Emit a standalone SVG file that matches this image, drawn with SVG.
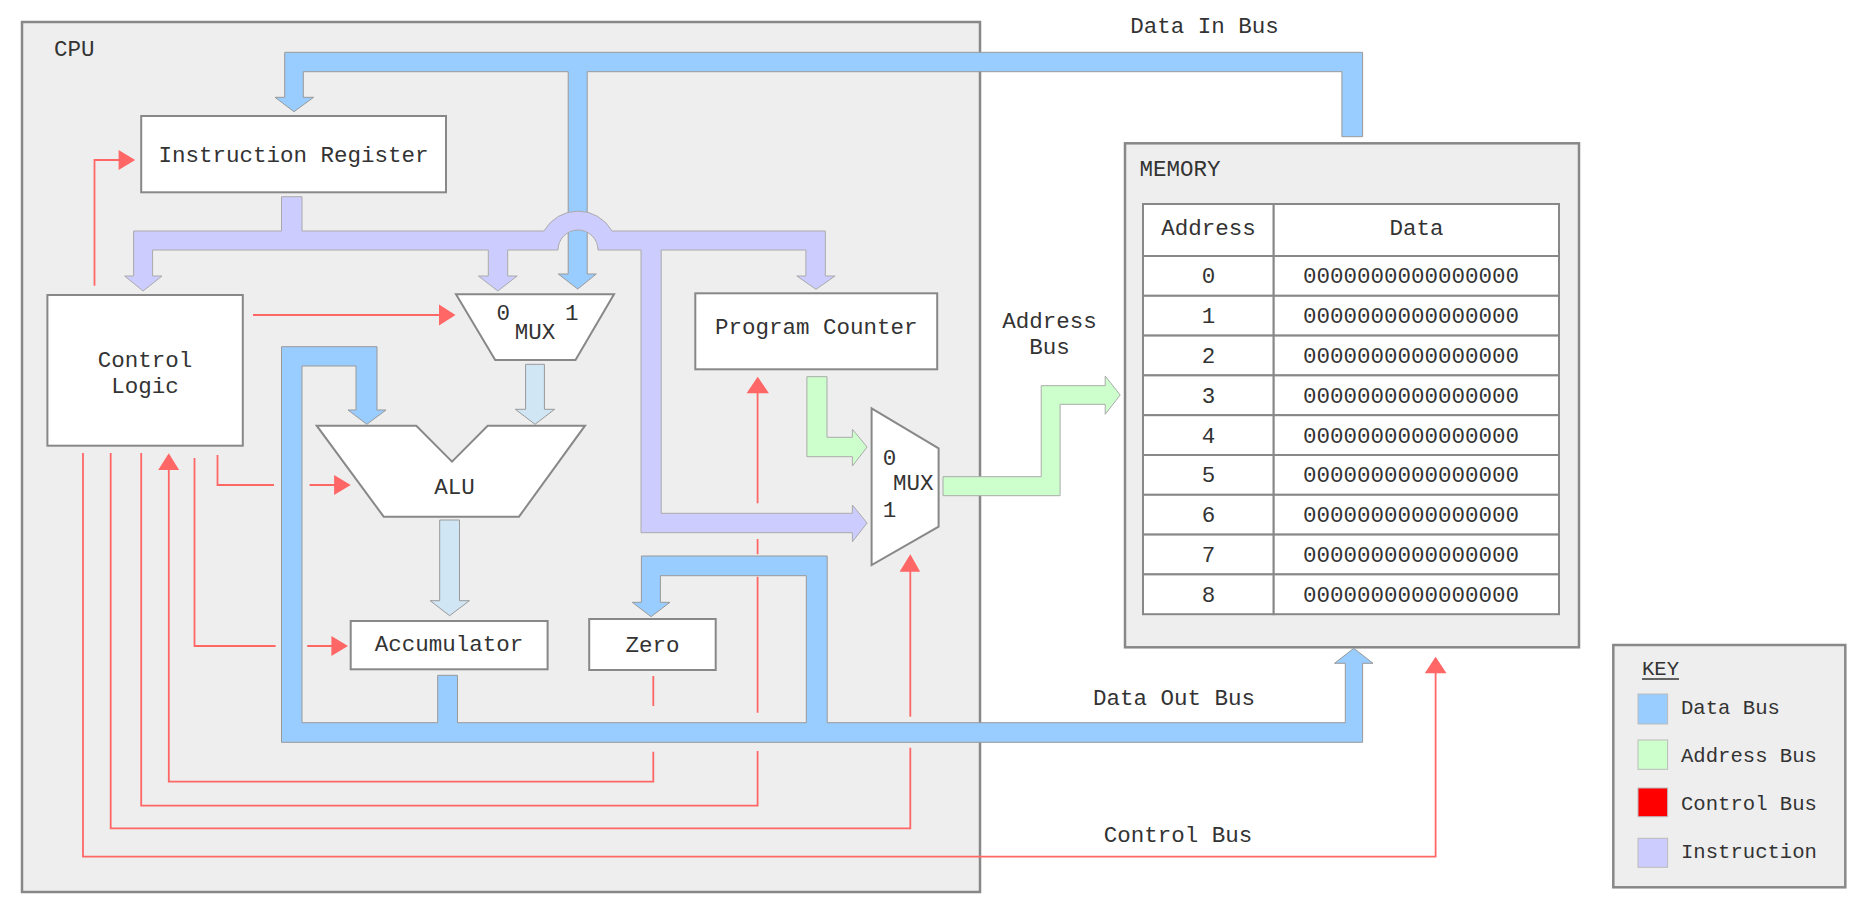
<svg xmlns="http://www.w3.org/2000/svg" width="1874" height="910" viewBox="0 0 1874 910">
<style>
text{font-family:"Liberation Mono","DejaVu Sans Mono",monospace;font-size:22.5px;fill:#333}
.c{text-anchor:middle}
.k{font-size:20.6px}
.frame{fill:#eeeeee;stroke:#888;stroke-width:2.5}
.box{fill:#fff;stroke:#888;stroke-width:2}
.data{fill:#99ccff;stroke:#999;stroke-width:1}
.instr{fill:#ccccff;stroke:#aaa;stroke-width:1}
.addr{fill:#ccffcc;stroke:#aaa;stroke-width:1}
.inner{fill:#d0e6f5;stroke:#999;stroke-width:1}
.ctl{fill:none;stroke:#ff6666;stroke-width:1.8}
.head{fill:#ff6666}
.cell{fill:#fff;stroke:#888;stroke-width:2}
</style>
<rect width="1874" height="910" fill="#fff"/>
<g id="cpu">
<rect class="frame" x="22" y="22" width="958" height="870"/>
<text x="54" y="56">CPU</text>
</g>
<g id="memory">
<rect class="frame" x="1125" y="143.3" width="454" height="504"/>
<text x="1139.5" y="176">MEMORY</text>
<rect class="cell" x="1143" y="204" width="130.7" height="52"/>
<rect class="cell" x="1273.7" y="204" width="285.3" height="52"/>
<text class="c" x="1208.4" y="235">Address</text>
<text class="c" x="1416.4" y="235">Data</text>
<g id="rows">
<rect class="cell" x="1143" y="256" width="130.7" height="39.8"/><rect class="cell" x="1273.7" y="256" width="285.3" height="39.8"/>
<rect class="cell" x="1143" y="295.8" width="130.7" height="39.8"/><rect class="cell" x="1273.7" y="295.8" width="285.3" height="39.8"/>
<rect class="cell" x="1143" y="335.6" width="130.7" height="39.8"/><rect class="cell" x="1273.7" y="335.6" width="285.3" height="39.8"/>
<rect class="cell" x="1143" y="375.4" width="130.7" height="39.8"/><rect class="cell" x="1273.7" y="375.4" width="285.3" height="39.8"/>
<rect class="cell" x="1143" y="415.2" width="130.7" height="39.8"/><rect class="cell" x="1273.7" y="415.2" width="285.3" height="39.8"/>
<rect class="cell" x="1143" y="455" width="130.7" height="39.8"/><rect class="cell" x="1273.7" y="455" width="285.3" height="39.8"/>
<rect class="cell" x="1143" y="494.8" width="130.7" height="39.8"/><rect class="cell" x="1273.7" y="494.8" width="285.3" height="39.8"/>
<rect class="cell" x="1143" y="534.6" width="130.7" height="39.8"/><rect class="cell" x="1273.7" y="534.6" width="285.3" height="39.8"/>
<rect class="cell" x="1143" y="574.4" width="130.7" height="39.8"/><rect class="cell" x="1273.7" y="574.4" width="285.3" height="39.8"/>
<text class="c" x="1208.4" y="283.3">0</text><text class="c" x="1411" y="283.3">0000000000000000</text>
<text class="c" x="1208.4" y="323.1">1</text><text class="c" x="1411" y="323.1">0000000000000000</text>
<text class="c" x="1208.4" y="362.9">2</text><text class="c" x="1411" y="362.9">0000000000000000</text>
<text class="c" x="1208.4" y="402.7">3</text><text class="c" x="1411" y="402.7">0000000000000000</text>
<text class="c" x="1208.4" y="442.5">4</text><text class="c" x="1411" y="442.5">0000000000000000</text>
<text class="c" x="1208.4" y="482.3">5</text><text class="c" x="1411" y="482.3">0000000000000000</text>
<text class="c" x="1208.4" y="522.1">6</text><text class="c" x="1411" y="522.1">0000000000000000</text>
<text class="c" x="1208.4" y="561.9">7</text><text class="c" x="1411" y="561.9">0000000000000000</text>
<text class="c" x="1208.4" y="601.7">8</text><text class="c" x="1411" y="601.7">0000000000000000</text>
</g>
</g>
<g id="connectors">
<path class="data" d="M1362.6,136.7 V52.3 H284.7 V97.3 H275 L294,111.7 L313.6,97.3 H303.3 V71.7 H568.2 V274 H558.3 L577.7,289 L596.3,274 H587.2 V71.7 H1341.9 V136.7 Z"/>
<path class="instr" d="M281.5,196.7 H302 V231 H544 A39,39 0 0 1 612,231 H825.3 V276 H835.1 L816,289.3 L796.8,276 H805.9 V250 H661.2 V513.3 H852.4 V505 L867.1,523 L852.4,541.7 V532.7 H641 V250 H598 A20,20 0 0 0 558,250 H507.7 V276 H517.2 L497.8,291 L478.4,276 H488.3 V250 H152.6 V276 H162 L143.1,291 L124.6,276 H133.6 V231 H281.5 Z"/>
<path class="data" d="M281.5,346.7 V742.3 H1362.6 V663.3 H1373 L1353.8,648.3 L1334.5,663.3 H1345.3 V722.7 H827.2 V556 H641.4 V602.3 H632.3 L651,616.7 L670,602.3 H660.4 V575.7 H806.3 V722.7 H457.5 V675.3 H437.7 V722.7 H302 V366 H356 V410 H348 L366.8,424.3 L386,410 H377 V346.7 Z"/>
<path class="inner" d="M525.6,364.3 H544.4 V409.3 H554.6 L535,424.3 L515.4,409.3 H525.6 Z"/>
<path class="inner" d="M439.7,520 H459.5 V600.7 H469.4 L449.6,615.7 L430.2,600.7 H439.7 Z"/>
<path class="addr" d="M806.9,376.7 H827 V437.3 H852.4 V429.3 L867.1,447 L852.4,466 V456.7 H806.9 Z"/>
<path class="addr" d="M943,476.7 H1041.2 V385.7 H1105.2 V376 L1120.2,395 L1105.2,414.3 V404.3 H1060.1 V495.7 H943 Z"/>
<path class="ctl" d="M94.5,285.7 V160 H120"/>
<polygon class="head" points="118.6,150 135.2,160 118.6,170"/>
<path class="ctl" d="M253,315 H441"/>
<polygon class="head" points="439,304.5 455.5,315 439,325.5"/>
<path class="ctl" d="M83,453 V856.7 H1435.6 V672"/>
<polygon class="head" points="1424.8,673.3 1435.6,656.7 1446.5,673.3"/>
<path class="ctl" d="M110.7,453 V828.3 H910.3 V747.7 M910.3,716.7 V570"/>
<polygon class="head" points="899.6,571.7 910.3,554.3 920.2,571.7"/>
<path class="ctl" d="M141.2,453 V805.7 H757.6 V751 M757.6,712.7 V576.7 M757.6,554.3 V539 M757.6,503.3 V392"/>
<polygon class="head" points="746.6,393.3 757.7,376.7 768.9,393.3"/>
<path class="ctl" d="M168.8,469 V781.7 H653.3 V751.7 M653.3,706 V676"/>
<polygon class="head" points="158.2,470 168.8,453.3 179.1,470"/>
<path class="ctl" d="M194.5,458 V646 H275.6 M307.2,646 H333"/>
<polygon class="head" points="331.4,636 348,646 331.4,656"/>
<path class="ctl" d="M217.5,455 V485 H274 M309.6,485 H336"/>
<polygon class="head" points="334.1,475 350.7,485 334.1,495"/>
</g>
<g id="instruction-register">
<rect class="box" x="141.2" y="116" width="304.8" height="76.3"/>
<text class="c" x="293.6" y="162.3">Instruction Register</text>
</g>
<g id="control-logic">
<rect class="box" x="47.4" y="295" width="195.4" height="150.7"/>
<text class="c" x="145" y="366.7">Control</text>
<text class="c" x="145" y="393.3">Logic</text>
</g>
<g id="mux1">
<polygon class="box" points="456,294.3 614,294.3 575.5,360 495.2,360"/>
<text x="496.6" y="320">0</text>
<text x="565" y="320">1</text>
<text class="c" x="535" y="339">MUX</text>
</g>
<g id="alu">
<polygon class="box" points="316.7,425.7 416.3,425.7 452,461.7 487.7,425.7 585,425.7 519,516.7 383.7,516.7"/>
<text class="c" x="454.5" y="494.3">ALU</text>
</g>
<g id="program-counter">
<rect class="box" x="695.3" y="293.3" width="241.9" height="76"/>
<text class="c" x="816.2" y="334">Program Counter</text>
</g>
<g id="accumulator">
<rect class="box" x="350.7" y="621" width="196.9" height="48.3"/>
<text class="c" x="449" y="651">Accumulator</text>
</g>
<g id="zero">
<rect class="box" x="589.2" y="619" width="126.5" height="51"/>
<text class="c" x="652.5" y="651.7">Zero</text>
</g>
<g id="mux2">
<polygon class="box" points="871.6,408.3 938.6,448.3 938.6,526.7 871.6,565"/>
<text x="882.8" y="465">0</text>
<text x="893" y="490">MUX</text>
<text x="882.8" y="516.7">1</text>
</g>
<g id="labels">
<text class="c" x="1204.6" y="33.3">Data In Bus</text>
<text class="c" x="1049.5" y="328.3">Address</text>
<text class="c" x="1049.5" y="354.3">Bus</text>
<text class="c" x="1174" y="705">Data Out Bus</text>
<text class="c" x="1178" y="841.7">Control Bus</text>
</g>
<g id="key">
<rect class="frame" x="1613.3" y="645" width="232" height="242.3"/>
<text class="k" x="1642" y="675">KEY</text>
<line x1="1642" y1="679" x2="1679" y2="679" stroke="#333" stroke-width="1.5"/>
<rect x="1638" y="694" width="29.6" height="30" fill="#99ccff" stroke="#bbb"/>
<rect x="1638" y="740" width="29.6" height="29.3" fill="#ccffcc" stroke="#bbb"/>
<rect x="1638" y="788" width="29.6" height="28.7" fill="#ff0000" stroke="#bbb"/>
<rect x="1638" y="838.3" width="29.6" height="29" fill="#ccccff" stroke="#bbb"/>
<text class="k" x="1681" y="714">Data Bus</text>
<text class="k" x="1681" y="762.3">Address Bus</text>
<text class="k" x="1681" y="810">Control Bus</text>
<text class="k" x="1681" y="858.3">Instruction</text>
</g>
</svg>
